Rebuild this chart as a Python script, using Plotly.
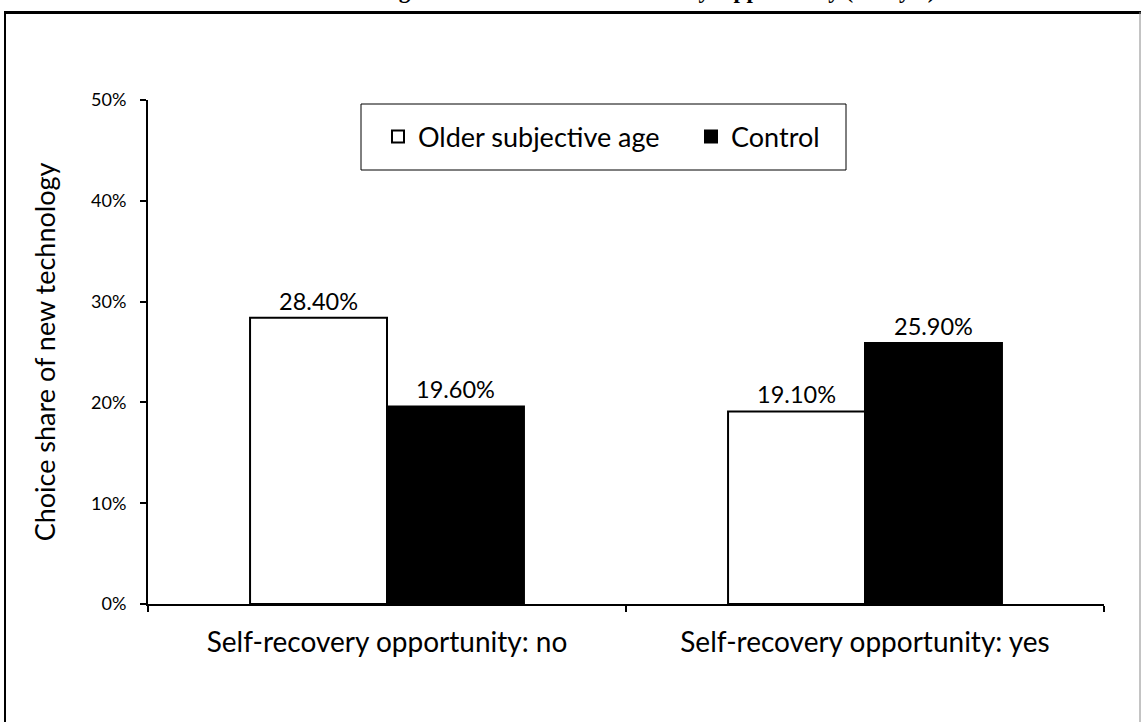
import plotly.graph_objects as go

categories = ["Self-recovery opportunity: no", "Self-recovery opportunity: yes"]
older_age = [0.284, 0.191]
control = [0.196, 0.259]
series_names = ["Older subjective age", "Control"]
y_ticks = [0, 0.1, 0.2, 0.3, 0.4, 0.5]
title_text = "The Effect of Age Condition and Self-Recovery Opportunity (Study 2)"

FONT = "Lato"

fig = go.Figure()
fig.add_trace(go.Bar(
    x=categories, y=older_age, name=series_names[0],
    marker=dict(color="white", line=dict(color="black", width=2)),
    texttemplate="%{y:.2%}", textposition="outside",
    textfont=dict(family=FONT, size=23.5, color="black"),
    cliponaxis=False,
))
fig.add_trace(go.Bar(
    x=categories, y=control, name=series_names[1],
    marker=dict(color="black", line=dict(color="black", width=2)),
    texttemplate="%{y:.2%}", textposition="outside",
    textfont=dict(family=FONT, size=23.5, color="black"),
    cliponaxis=False,
))

L, R, T, B = 148, 37, 100, 118
W, H = 1141, 722
pw, ph = W - L - R, H - T - B

def px(xp):
    return (xp - L) / pw

def py(yp):
    return (H - B - yp) / ph

fig.update_layout(
    width=W, height=H,
    margin=dict(l=L, r=R, t=T, b=B, pad=0),
    paper_bgcolor="white", plot_bgcolor="white",
    barmode="group", bargap=0.427, bargroupgap=0,
    font=dict(family=FONT, color="black"),
    showlegend=True,
    legend=dict(
        orientation="h", x=px(378), y=py(137), xanchor="left", yanchor="middle",
        borderwidth=0, bgcolor="rgba(0,0,0,0)",
        font=dict(family=FONT, size=27, color="black"),
        traceorder="normal",
        entrywidth=268, entrywidthmode="pixels",
    ),
    xaxis=dict(
        type="category", tickson="boundaries", ticks="outside", ticklen=6,
        tickcolor="black", tickwidth=2,
        showline=True, linecolor="black", linewidth=2,
        showgrid=False, zeroline=False,
        tickfont=dict(family=FONT, size=28, color="black"),
        ticklabelstandoff=12,
        range=[-0.5, 1.5],
    ),
    yaxis=dict(
        range=[0, 0.5], tickvals=y_ticks, tickformat=".0%",
        ticks="outside", ticklen=6, tickcolor="black", tickwidth=2,
        showline=True, linecolor="black", linewidth=2,
        showgrid=False, zeroline=False,
        tickfont=dict(family=FONT, size=18, color="black"),
        ticklabelstandoff=10,
        title=dict(text="Choice share of new technology",
                   font=dict(family=FONT, size=27, color="black"), standoff=28),
    ),
    shapes=[
        dict(type="rect", xref="paper", yref="paper", x0=px(361), x1=px(846), y0=py(104), y1=py(170),
             line=dict(color="black", width=1), fillcolor="white", layer="below"),
        dict(type="line", xref="paper", yref="paper", x0=px(4), x1=px(1145), y0=py(12.5), y1=py(12.5),
             line=dict(color="black", width=3)),
        dict(type="line", xref="paper", yref="paper", x0=px(5), x1=px(5), y0=py(12), y1=py(760),
             line=dict(color="black", width=2)),
        dict(type="line", xref="paper", yref="paper", x0=px(1140), x1=px(1140), y0=py(12), y1=py(760),
             line=dict(color="#888888", width=1)),
    ],
    annotations=[
        dict(text="<b>" + title_text + "</b>", xref="paper", yref="paper",
             x=px(938), y=py(5), xanchor="right", yanchor="bottom", showarrow=False,
             font=dict(family="Liberation Serif", size=23, color="black")),
    ],
)

fig.write_html("out.html")
